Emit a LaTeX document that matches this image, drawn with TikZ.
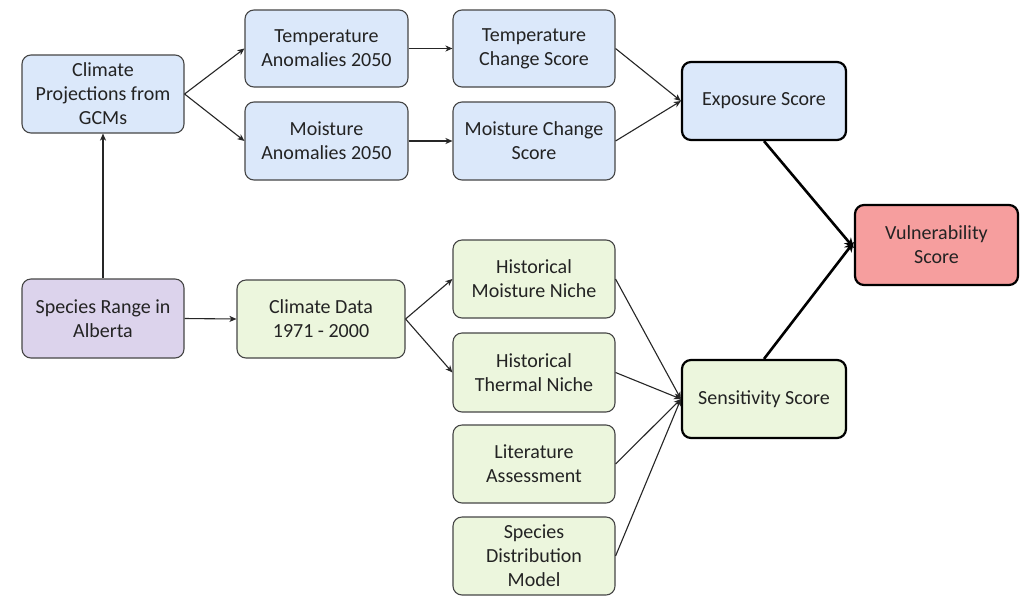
\documentclass[tikz,border=0pt]{standalone}
\usepackage{fontspec}
\setmainfont{Carlito}
\usetikzlibrary{arrows.meta}
\definecolor{bluefill}{RGB}{219,232,250}
\definecolor{greenfill}{RGB}{236,246,221}
\definecolor{purplefill}{RGB}{220,211,236}
\definecolor{redfill}{RGB}{246,158,158}
\definecolor{edgegray}{RGB}{70,70,70}
\definecolor{textgray}{RGB}{35,35,35}
\tikzset{
  box/.style={draw=edgegray, line width=1.1pt, rounded corners=9pt, align=center,
    font=\fontsize{20}{24}\selectfont, text=textgray, inner sep=1pt},
  bluebox/.style={box, fill=bluefill},
  greenbox/.style={box, fill=greenfill},
  purplebox/.style={box, fill=purplefill},
  keybox/.style={draw=black, line width=2.2pt},
  redbox/.style={box, keybox, fill=redfill},
  conn/.style={draw=black!85, line width=1.1pt, -{Stealth[length=7pt,width=6pt,inset=2pt]}},
  thickconn/.style={draw=black, line width=2.6pt, -{Stealth[length=10pt,width=9pt,inset=3pt]}},
}
\begin{document}
\begin{tikzpicture}[x=1pt,y=-1pt]
\useasboundingbox (0,0) rectangle (1024,595);
\fill[white] (0,0) rectangle (1024,595);

% boxes: minimum sizes in px (1px = 1pt)
\node[bluebox, minimum width=162pt, minimum height=78pt] (cp) at (103,94) {Climate\\Projections from\\GCMs};
\node[bluebox, minimum width=163pt, minimum height=77pt] (ta) at (326.5,48.5) {Temperature\\Anomalies 2050};
\node[bluebox, minimum width=163pt, minimum height=78pt] (ma) at (326.5,141) {Moisture\\Anomalies 2050};
\node[bluebox, minimum width=162pt, minimum height=77pt] (tcs) at (534,48.5) {Temperature\\Change Score};
\node[bluebox, minimum width=162pt, minimum height=78pt] (mcs) at (534,141) {Moisture Change\\Score};
\node[bluebox, keybox, minimum width=164pt, minimum height=78pt] (exp) at (764,101) {Exposure Score};
\node[redbox, minimum width=163pt, minimum height=80pt] (vul) at (936.5,245) {Vulnerability\\Score};
\node[purplebox, minimum width=162pt, minimum height=79pt] (sr) at (103,318.5) {Species Range in\\Alberta};
\node[greenbox, minimum width=168pt, minimum height=78pt] (cd) at (321,319) {Climate Data\\1971 - 2000};
\node[greenbox, minimum width=162pt, minimum height=78pt] (hm) at (534,279) {Historical\\Moisture Niche};
\node[greenbox, minimum width=162pt, minimum height=79pt] (ht) at (534,372.5) {Historical\\Thermal Niche};
\node[greenbox, minimum width=162pt, minimum height=78pt] (lit) at (534,464) {Literature\\Assessment};
\node[greenbox, minimum width=162pt, minimum height=78pt] (sdm) at (534,556) {Species\\Distribution\\Model};
\node[greenbox, keybox, minimum width=164pt, minimum height=78pt] (sens) at (764,399) {Sensitivity Score};

% connectors
\draw[conn] (cp.east) -- (ta.west);
\draw[conn] (cp.east) -- (ma.west);
\draw[conn] (ta.east) -- (tcs.west);
\draw[conn] (ma.east) -- (mcs.west);
\draw[conn] (tcs.east) -- (exp.west);
\draw[conn] (mcs.east) -- (exp.west);
\draw[conn] (sr.north) -- (cp.south);
\draw[conn] (sr.east) -- (cd.west);
\draw[conn] (cd.east) -- (hm.west);
\draw[conn] (cd.east) -- (ht.west);
\draw[conn] (hm.east) -- (sens.west);
\draw[conn] (ht.east) -- (sens.west);
\draw[conn] (lit.east) -- (sens.west);
\draw[conn] (sdm.east) -- (sens.west);
\draw[thickconn] (exp.south) -- ([yshift=-3pt]vul.west);
\draw[thickconn] (sens.north) -- ([yshift=3pt]vul.west);
\end{tikzpicture}
\end{document}
